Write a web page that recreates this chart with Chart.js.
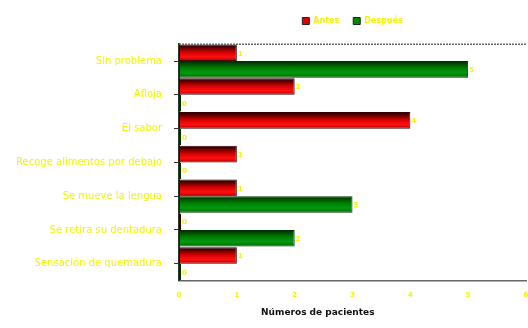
<!DOCTYPE html>
<html>
<head>
<meta charset="utf-8">
<script src="https://cdn.jsdelivr.net/npm/chart.js@4/dist/chart.umd.min.js"></script>
<style>
  html, body { margin: 0; padding: 0; background: #ffffff; }
  #wrap { width: 528px; height: 328px; }
</style>
</head>
<body>
<div id="wrap"><canvas id="c" width="528" height="328"></canvas></div>
<script>
// Motivos de queja antes y después del tratamiento
const categorias = [
  'Sin problema',
  'Afloja',
  'El sabor',
  'Recoge alimentos por debajo',
  'Se mueve la lengua',
  'Se retira su dentadura',
  'Sensación de quemadura'
];
const antes = [1, 2, 4, 1, 1, 0, 1];
const despues = [5, 0, 0, 0, 3, 2, 0];
const ticksX = [0, 1, 2, 3, 4, 5, 6];
const tituloX = 'Números de pacientes';

const AMARILLO = '#f4f400';
const FUENTE = '"DejaVu Sans", "Liberation Sans", Arial, sans-serif';

// Degradado vertical en cada barra para darle relieve
const relieve = {
  id: 'relieve',
  beforeDatasetDraw(chart, args) {
    const ctx = chart.ctx;
    const ds = chart.data.datasets[args.index];
    args.meta.data.forEach(el => {
      const h = el.height;
      const g = ctx.createLinearGradient(0, el.y - h / 2, 0, el.y + h / 2);
      ds.tonos.forEach(([p, c]) => g.addColorStop(p, c));
      el.options = Object.assign({}, el.options, { backgroundColor: g });
    });
  }
};

// Valor escrito al final de cada barra
const etiquetas = {
  id: 'etiquetas',
  afterDatasetsDraw(chart) {
    const ctx = chart.ctx;
    ctx.save();
    ctx.font = 'bold 7px ' + FUENTE;
    ctx.fillStyle = AMARILLO;
    ctx.textBaseline = 'middle';
    ctx.textAlign = 'left';
    chart.data.datasets.forEach((ds, i) => {
      chart.getDatasetMeta(i).data.forEach((el, j) => {
        ctx.fillText(String(ds.data[j]), el.x + 1, el.y + 1);
      });
    });
    ctx.restore();
  }
};

// Línea punteada superior y título del eje horizontal
const marco = {
  id: 'marco',
  afterDraw(chart) {
    const a = chart.chartArea;
    const ctx = chart.ctx;
    ctx.save();
    ctx.strokeStyle = '#666';
    ctx.lineWidth = 1.5;
    ctx.setLineDash([2, 1]);
    ctx.beginPath();
    ctx.moveTo(a.left, a.top);
    ctx.lineTo(a.right, a.top);
    ctx.stroke();
    ctx.setLineDash([]);
    ctx.font = 'bold 9px ' + FUENTE;
    ctx.fillStyle = '#111';
    ctx.textAlign = 'center';
    ctx.textBaseline = 'middle';
    ctx.fillText(tituloX, a.left + (a.right - a.left) * 0.4, a.bottom + 32);
    ctx.restore();
  }
};

new Chart(document.getElementById('c'), {
  type: 'bar',
  data: {
    labels: categorias,
    datasets: [
      {
        label: 'Antes',
        data: antes,
        backgroundColor: '#e00000',
        tonos: [[0, '#100000'], [0.45, '#d00000'], [0.75, '#ff1010'], [1, '#b00000']],
        borderColor: '#3a0000',
        borderWidth: 1,
        borderSkipped: false,
        barPercentage: 1,
        categoryPercentage: 0.98,
        minBarLength: 2
      },
      {
        label: 'Después',
        data: despues,
        backgroundColor: '#008a00',
        tonos: [[0, '#002800'], [0.4, '#007a00'], [0.7, '#009a10'], [1, '#006a00']],
        borderColor: '#003000',
        borderWidth: 1,
        borderSkipped: false,
        barPercentage: 1,
        categoryPercentage: 0.98,
        minBarLength: 2
      }
    ]
  },
  options: {
    indexAxis: 'y',
    responsive: false,
    animation: false,
    devicePixelRatio: 1,
    layout: { padding: { left: 4, right: 2, top: 3, bottom: 19 } },
    plugins: {
      tooltip: { enabled: false },
      // título vacío: solo deja aire entre la leyenda y el gráfico
      title: {
        display: true,
        text: '',
        font: { size: 1 },
        padding: { top: 4, bottom: 4 }
      },
      legend: {
        position: 'top',
        weight: 3000,
        fullSize: false,
        labels: {
          boxWidth: 7,
          boxHeight: 7,
          padding: 14,
          color: AMARILLO,
          font: { size: 8, weight: 'bold', family: FUENTE },
          generateLabels(chart) {
            return chart.data.datasets.map((ds, i) => ({
              text: ds.label,
              fillStyle: ds.backgroundColor,
              strokeStyle: '#222',
              lineWidth: 1,
              fontColor: AMARILLO,
              datasetIndex: i
            }));
          }
        }
      }
    },
    scales: {
      x: {
        min: 0,
        max: 6,
        afterBuildTicks(scale) { scale.ticks = ticksX.map(v => ({ value: v })); },
        afterFit(scale) { scale.paddingRight = 0; },
        grid: { display: false, drawTicks: false },
        border: { display: true, color: '#666', width: 1.5, dash: [2, 1] },
        ticks: {
          color: AMARILLO,
          padding: 10,
          font: { size: 7, weight: 'bold', family: FUENTE }
        }
      },
      y: {
        afterFit(scale) { scale.width = 175; },
        grid: { offset: false, drawOnChartArea: false, drawTicks: true, tickLength: 5, color: '#333' },
        border: { display: true, color: '#2a3a2a', width: 2 },
        ticks: {
          color: AMARILLO,
          padding: 12,
          font: { size: 10, family: FUENTE }
        }
      }
    }
  },
  plugins: [relieve, etiquetas, marco]
});
</script>
</body>
</html>
